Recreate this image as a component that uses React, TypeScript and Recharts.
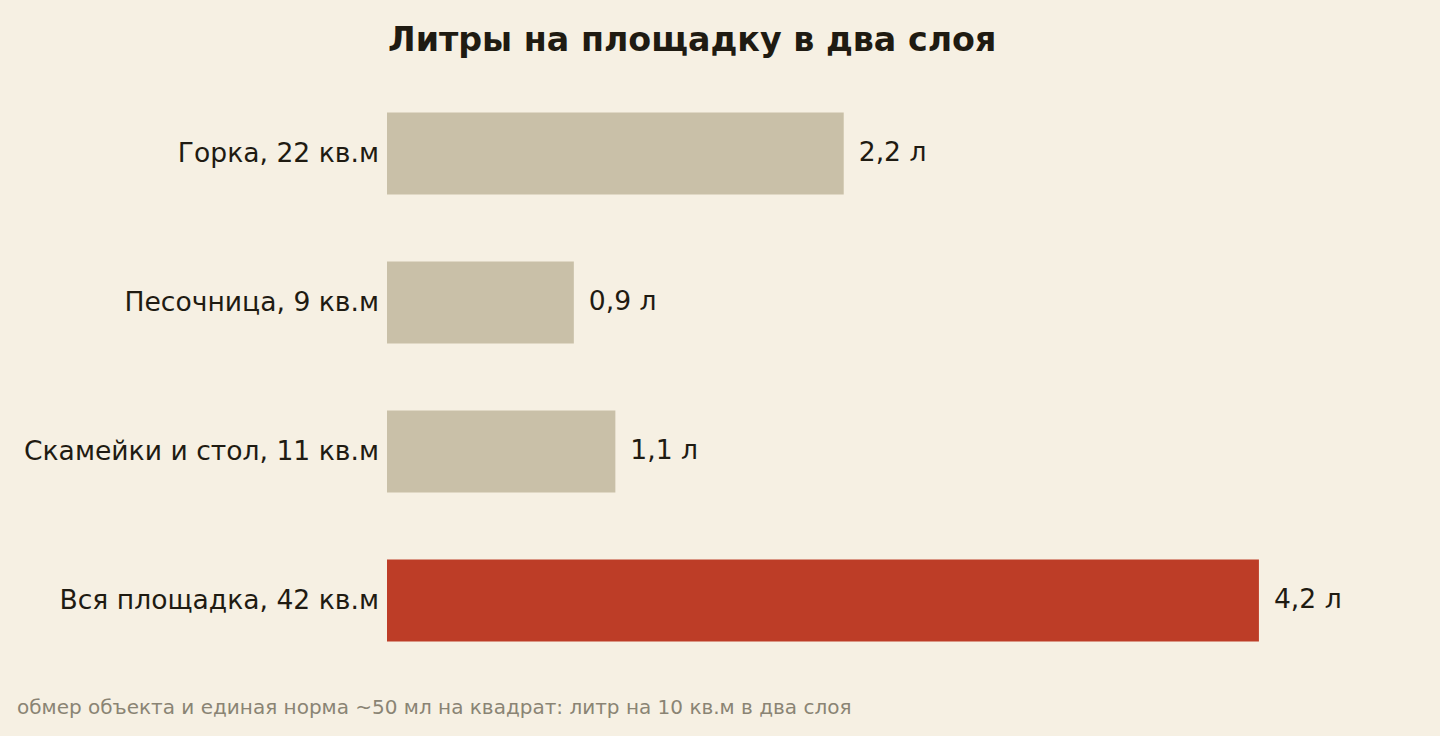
import { BarChart, Bar, XAxis, YAxis, LabelList, Cell } from 'recharts';

const categories = ['Горка, 22 кв.м', 'Песочница, 9 кв.м', 'Скамейки и стол, 11 кв.м', 'Вся площадка, 42 кв.м'];
const liters = [2.2, 0.9, 1.1, 4.2];
const highlighted = [false, false, false, true];

const data = categories.map((name, i) => ({ name, liters: liters[i], total: highlighted[i] }));

const FONT = '"DejaVu Sans", sans-serif';
const INK = '#1f1b12';

export default function App() {
  return (
    <div style={{ position: 'absolute', left: 0, top: 0, width: 1440, height: 736, background: '#f6f0e3', fontFamily: FONT }}>
      <div style={{ position: 'absolute', left: 388, top: 20, fontSize: 33.3, fontWeight: 700, color: INK, whiteSpace: 'nowrap' }}>
        Литры на площадку в два слоя
      </div>
      <BarChart
        width={1440}
        height={736}
        data={data}
        layout="vertical"
        margin={{ top: 78.5, right: 15, bottom: 61.5, left: 0 }}
      >
        <XAxis type="number" domain={[0, 5]} hide />
        <YAxis
          type="category"
          dataKey="name"
          width={387}
          axisLine={false}
          tickLine={false}
          tick={{ fill: INK, fontSize: 26.6, fontFamily: FONT }}
        />
        <Bar dataKey="liters" barSize={82} isAnimationActive={false}>
          {data.map((d) => (
            <Cell key={d.name} fill={d.total ? '#bd3d27' : '#c9c0a8'} />
          ))}
          <LabelList
            dataKey="liters"
            position="right"
            offset={15}
            dy={-2}
            formatter={(v: number) => `${String(v).replace('.', ',')} л`}
            style={{ fill: INK, fontSize: 26.6, fontFamily: FONT }}
          />
        </Bar>
      </BarChart>
      <div style={{ position: 'absolute', left: 17, top: 695, fontSize: 20, color: '#8a8474', whiteSpace: 'nowrap' }}>
        обмер объекта и единая норма ~50 мл на квадрат: литр на 10 кв.м в два слоя
      </div>
    </div>
  );
}
